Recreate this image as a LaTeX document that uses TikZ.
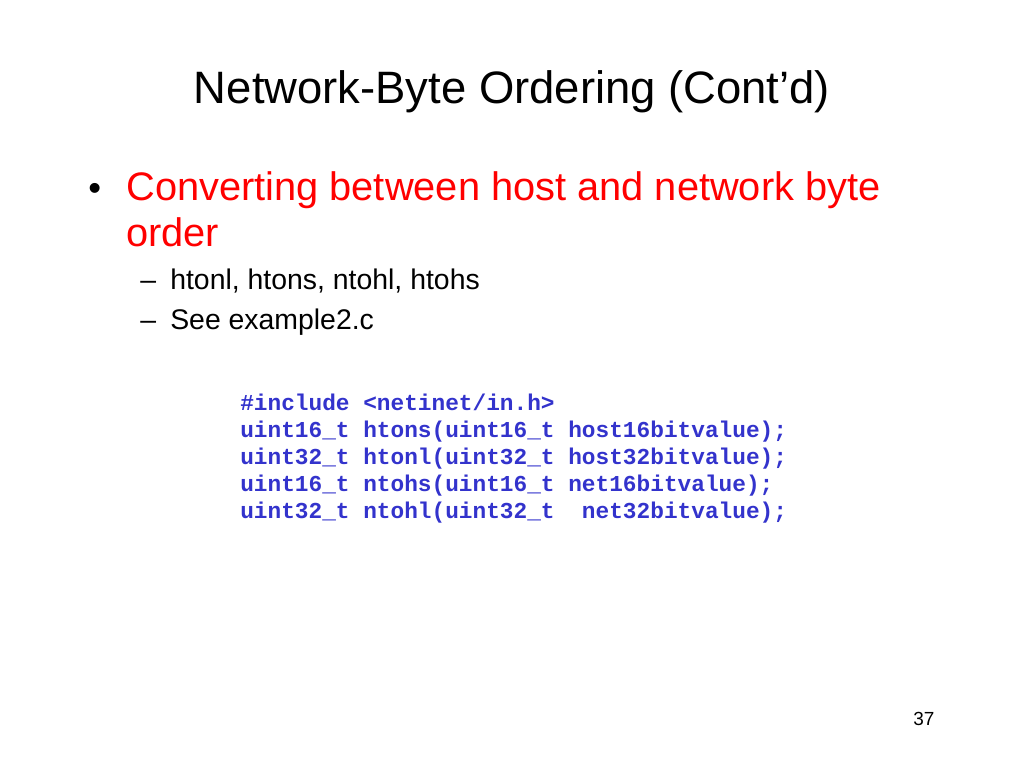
\documentclass[tikz,border=0pt]{standalone}
\usepackage{fontspec}
\setmainfont{Liberation Sans}
\setmonofont{Liberation Mono}
\usepackage{xcolor}
\definecolor{slidered}{RGB}{255,0,0}
\definecolor{codeblue}{RGB}{51,51,204}
\tikzset{
    txt/.style={anchor=base west, inner sep=0pt},
    titletext/.style={anchor=base, inner sep=0pt, font=\fontsize{32.3}{38}\selectfont},
    bullettext/.style={txt, text=slidered, font=\fontsize{28.3}{34}\selectfont},
    subtext/.style={txt, font=\fontsize{20.2}{24}\selectfont},
    codetext/.style={txt, text=codeblue, font=\ttfamily\bfseries\fontsize{16.2}{19.1}\selectfont}
}
\begin{document}
\begin{tikzpicture}[x=0.025cm, y=-0.025cm]
    \useasboundingbox (0,0) rectangle (1024,768);
    \node[titletext] (title) at (512,104) {Network-Byte Ordering (Cont’d)};

    \node[txt, font=\fontsize{26}{32}\selectfont] (dot) at (88,200) {•};
    \node[bullettext] (conv) at (126,200) {Converting between host and network byte};
    \node[bullettext] (order) at (126,246) {order};
    \node[subtext] (dasha) at (140,289) {–};
    \node[subtext] (funcs) at (170,289) {htonl, htons, ntohl, htohs};
    \node[subtext] (dashb) at (140,329) {–};
    \node[subtext] (example) at (170,329) {See example2.c};

    % code block
    \foreach \y/\line in {410/{\#include <netinet/in.h>},
                          437/{uint16\_t htons(uint16\_t host16bitvalue);},
                          464/{uint32\_t htonl(uint32\_t host32bitvalue);},
                          491/{uint16\_t ntohs(uint16\_t net16bitvalue);},
                          518/{uint32\_t ntohl(uint32\_t\ \ net32bitvalue);}}
        \node[codetext] at (240,\y) {\line};

    \node[txt, font=\fontsize{13.5}{16}\selectfont] (page) at (913,725) {37};
\end{tikzpicture}
\end{document}
